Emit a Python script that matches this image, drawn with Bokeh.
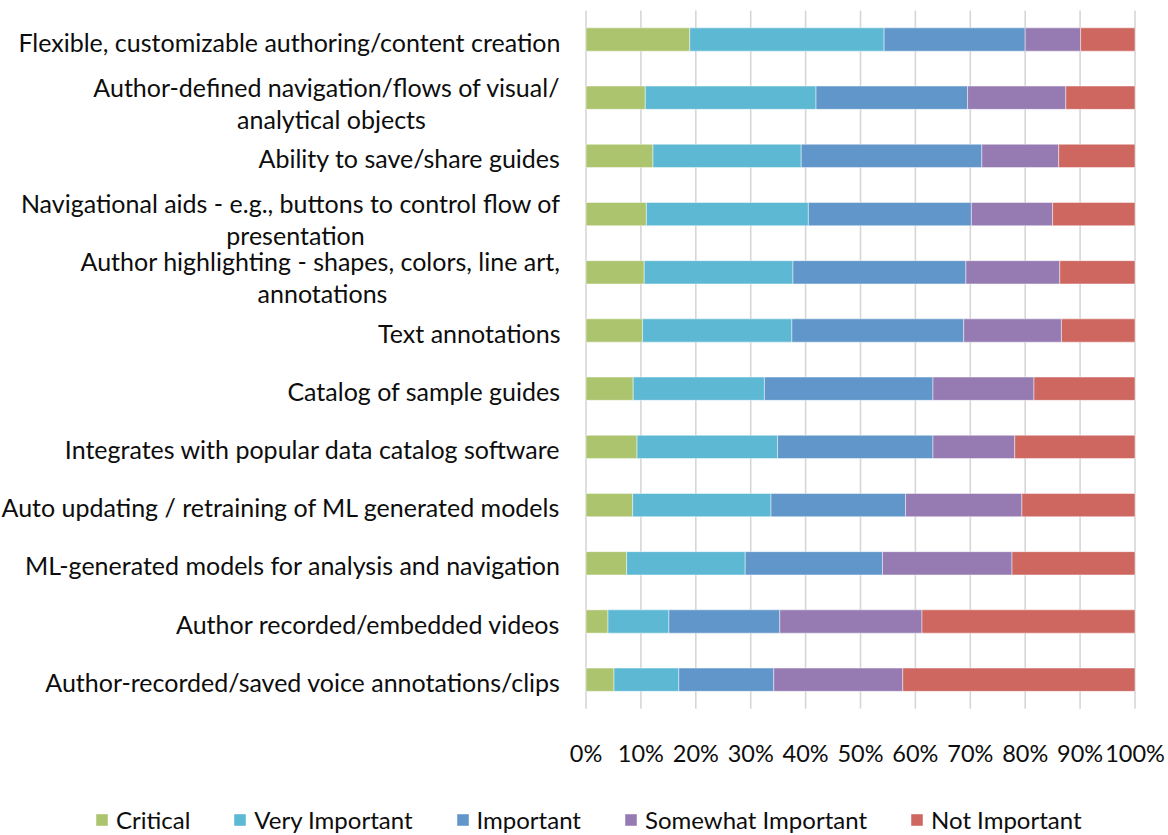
from bokeh.plotting import figure
from bokeh.models import ColumnDataSource, Range1d, Legend, LegendItem
from bokeh.core.properties import value
from bokeh.embed import file_html
from bokeh.resources import INLINE

# Survey: importance of guided-analytics features (share of respondents, %)
features = [
    "Flexible, customizable authoring/content creation",
    "Author-defined navigation/flows of visual/\nanalytical objects",
    "Ability to save/share guides",
    "Navigational aids - e.g., buttons to control flow of\npresentation",
    "Author highlighting - shapes, colors, line art,\nannotations",
    "Text annotations",
    "Catalog of sample guides",
    "Integrates with popular data catalog software",
    "Auto updating / retraining of ML generated models",
    "ML-generated models for analysis and navigation",
    "Author recorded/embedded videos",
    "Author-recorded/saved voice annotations/clips",
]
critical = [18.9, 10.8, 12.2, 11.0, 10.6, 10.3, 8.6, 9.3, 8.5, 7.4, 4.0, 5.1]
very_important = [35.4, 31.1, 27.0, 29.5, 27.1, 27.2, 23.9, 25.6, 25.2, 21.6, 11.1, 11.8]
important = [25.7, 27.6, 32.9, 29.7, 31.5, 31.3, 30.7, 28.3, 24.5, 25.0, 20.2, 17.3]
somewhat_important = [10.1, 17.9, 14.0, 14.8, 17.1, 17.8, 18.4, 14.9, 21.2, 23.6, 25.9, 23.5]
not_important = [9.9, 12.6, 13.9, 15.0, 13.7, 13.4, 18.4, 21.9, 20.6, 22.4, 38.8, 42.3]

series = ["Critical", "Very Important", "Important", "Somewhat Important", "Not Important"]
colors = ["#ADC46F", "#5DB9D3", "#6096C9", "#957BB1", "#CD6760"]
tick_values = [0, 10, 20, 30, 40, 50, 60, 70, 80, 90, 100]
tick_labels = [f"{t}%" for t in tick_values]

FONT_NAME = "Lato"
FONT = value(FONT_NAME)
LABEL_SIZE = "25px"
TICK_SIZE = "23.5px"
LEGEND_SIZE = "24px"
TEXT_COLOR = "#0d0d0d"

W, H = 1168, 835
X0_PX, X100_PX = 585.5, 1134.5          # screen x of 0% and 100%
PX_PER_PCT = (X100_PX - X0_PX) / 100
ROW0_PX, ROW_STEP = 39.0, 58.2          # screen y of first row, row pitch


def sx(px):
    """screen x -> data x"""
    return (px - X0_PX) / PX_PER_PCT


def sy(px):
    """screen y -> data y (row units)"""
    return (px - ROW0_PX) / ROW_STEP


p = figure(
    width=W, height=H, output_backend="svg", toolbar_location=None,
    x_range=Range1d(sx(0), sx(W)), y_range=Range1d(sy(H), sy(0)),
    x_axis_type=None, y_axis_type=None, min_border=0,
    outline_line_color=None, background_fill_color="white",
    border_fill_color="white",
)

n = len(features)
rows = list(range(n))
keys = ["critical", "very_important", "important", "somewhat_important", "not_important"]
src = ColumnDataSource(dict(
    row=rows, critical=critical, very_important=very_important,
    important=important, somewhat_important=somewhat_important,
    not_important=not_important,
))

# vertical gridlines at every 10%
p.segment(x0=tick_values, y0=[-0.5] * len(tick_values),
          x1=tick_values, y1=[n - 0.5] * len(tick_values),
          line_color="#D6D6D6", line_width=1.6)

bars = p.hbar_stack(keys, y="row", height=0.4, color=colors, source=src,
                    line_color="white", line_alpha=0.45, line_width=1)

# percentage tick labels
p.text(x=tick_values, y=[sy(752)] * len(tick_values), text=tick_labels,
       text_align="center", text_baseline="middle", text_font=FONT,
       text_font_size=TICK_SIZE, text_color=TEXT_COLOR)

# category labels (wrapped ones get a centred second line)
second_line_center_px = {1: 331, 3: 295, 4: 322}
line1_x, line1_y, line1_off, line1_t = [], [], [], []
line2_x, line2_y, line2_t = [], [], []
for i, f in enumerate(features):
    parts = f.split("\n")
    line1_x.append(sx(560))
    line1_y.append(i)
    line1_t.append(parts[0])
    line1_off.append(-11 if len(parts) > 1 else 2)
    if len(parts) > 1:
        line2_x.append(sx(second_line_center_px[i]))
        line2_y.append(i)
        line2_t.append(parts[1])

p.text(x="x", y="y", text="t", y_offset="off",
       source=ColumnDataSource(dict(x=line1_x, y=line1_y, t=line1_t, off=line1_off)),
       text_align="right", text_baseline="middle", text_font=FONT,
       text_font_size=LABEL_SIZE, text_color=TEXT_COLOR)
p.text(x=line2_x, y=line2_y, text=line2_t, y_offset=21,
       text_align="center", text_baseline="middle", text_font=FONT,
       text_font_size=LABEL_SIZE, text_color=TEXT_COLOR)

legend = Legend(
    items=[LegendItem(label=s, renderers=[r]) for s, r in zip(series, bars)],
    orientation="horizontal", location=(94, 1),
    label_text_font=FONT_NAME, label_text_font_size=LEGEND_SIZE,
    label_text_color=TEXT_COLOR, glyph_width=15, glyph_height=15,
    label_standoff=7, spacing=42, padding=0, margin=0,
    border_line_color=None, background_fill_alpha=0,
)
p.add_layout(legend)

open("out.html", "w").write(file_html(p, INLINE))
